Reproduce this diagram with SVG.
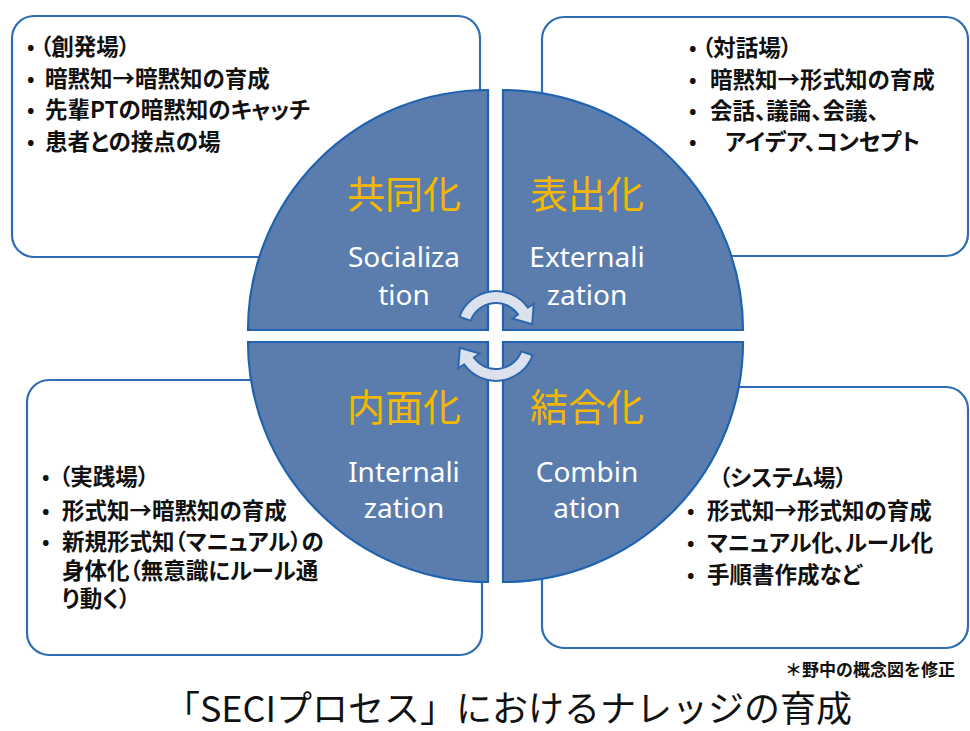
<svg xmlns="http://www.w3.org/2000/svg" width="970" height="731" viewBox="0 0 970 731">
<defs>
<style>
.box{fill:#ffffff;stroke:#2e6db4;stroke-width:2.2}
.quad{fill:#5a7dae;stroke:#1f63b0;stroke-width:2.2}
.t{font-family:"Noto Sans CJK JP","Noto Sans",sans-serif;font-size:22.5px;font-weight:700;fill:#111111;font-feature-settings:"palt"}
.b{font-family:"Noto Sans",sans-serif;font-size:20px;font-weight:700}
.jp{font-family:"Noto Sans CJK JP",sans-serif;font-size:38px;fill:#f5b800;text-anchor:middle}
.en{font-family:"Noto Sans","Open Sans",sans-serif;font-size:28px;fill:#ffffff;text-anchor:middle}
.arr{fill:#dbe2ee;stroke:#2c66ad;stroke-width:2}
</style>
<path id="cyc" d="M459.4,316.7 A39,39 0 0 1 527.9,307.6 L533.7,303.6 L532.2,324.2 L512.4,318.5 L518.1,314.5 A27,27 0 0 0 470.6,320.8 Z"/>
</defs>
<rect width="970" height="731" fill="#ffffff"/>

<g id="box-sogenba">
<rect class="box" x="12" y="16" width="468" height="241" rx="22"/>
<text class="t" y="55"><tspan class="b" x="27">•</tspan><tspan x="40">（創発場）</tspan></text>
<text class="t" y="87"><tspan class="b" x="27">•</tspan><tspan x="45">暗黙知→暗黙知の育成</tspan></text>
<text class="t" y="118"><tspan class="b" x="27">•</tspan><tspan x="45">先輩PTの暗黙知のキャッチ</tspan></text>
<text class="t" y="150"><tspan class="b" x="27">•</tspan><tspan x="45">患者との接点の場</tspan></text>
</g>

<g id="box-taiwaba">
<rect class="box" x="542" y="17" width="426" height="239" rx="22"/>
<text class="t" y="56"><tspan class="b" x="689">•</tspan><tspan x="702">（対話場）</tspan></text>
<text class="t" y="88"><tspan class="b" x="689">•</tspan><tspan x="710">暗黙知→形式知の育成</tspan></text>
<text class="t" y="119"><tspan class="b" x="689">•</tspan><tspan x="710">会話、議論、会議、</tspan></text>
<text class="t" y="150"><tspan class="b" x="689">•</tspan><tspan x="725">アイデア、コンセプト</tspan></text>
</g>

<g id="box-jissenba">
<rect class="box" x="27" y="380" width="455" height="275" rx="22"/>
<text class="t" y="485"><tspan class="b" x="42">•</tspan><tspan x="59">（実践場）</tspan></text>
<text class="t" y="519"><tspan class="b" x="42">•</tspan><tspan x="62">形式知→暗黙知の育成</tspan></text>
<text class="t" y="550"><tspan class="b" x="42">•</tspan><tspan x="62">新規形式知（マニュアル）の</tspan><tspan x="62" y="579">身体化（無意識にルール通</tspan><tspan x="62" y="607">り動く）</tspan></text>
</g>

<g id="box-systemba">
<rect class="box" x="542" y="387" width="426" height="261" rx="22"/>
<text class="t" x="719" y="486">（システム場）</text>
<text class="t" y="519"><tspan class="b" x="687">•</tspan><tspan x="707">形式知→形式知の育成</tspan></text>
<text class="t" y="551"><tspan class="b" x="687">•</tspan><tspan x="707">マニュアル化、ルール化</tspan></text>
<text class="t" y="583"><tspan class="b" x="687">•</tspan><tspan x="707">手順書作成など</tspan></text>
</g>

<g id="socialization">
<path class="quad" d="M488,330 L248,330 A240,240 0 0 1 488,90 Z"/>
<text class="jp" x="404" y="208">共同化</text>
<text class="en" x="404" y="267">Socializa</text>
<text class="en" x="404" y="305">tion</text>
</g>

<g id="externalization">
<path class="quad" d="M503,330 L503,90 A240,240 0 0 1 743,330 Z"/>
<text class="jp" x="587" y="208">表出化</text>
<text class="en" x="587" y="267">Externali</text>
<text class="en" x="587" y="305">zation</text>
</g>

<g id="internalization">
<path class="quad" d="M488,342 L488,582 A240,240 0 0 1 248,342 Z"/>
<text class="jp" x="404" y="421">内面化</text>
<text class="en" x="404" y="482">Internali</text>
<text class="en" x="404" y="518">zation</text>
</g>

<g id="combination">
<path class="quad" d="M503,342 L743,342 A240,240 0 0 1 503,582 Z"/>
<text class="jp" x="587" y="421">結合化</text>
<text class="en" x="587" y="482">Combin</text>
<text class="en" x="587" y="518">ation</text>
</g>

<g id="connectors">
<use href="#cyc" class="arr"/>
<use href="#cyc" class="arr" transform="rotate(180 496 336)"/>
</g>

<g id="notes">
<text x="955" y="676" text-anchor="end" style="font-family:'Noto Sans CJK JP',sans-serif;font-size:17px;font-weight:700;fill:#111">＊野中の概念図を修正</text>
<text x="508" y="722" text-anchor="middle" style="font-family:'Noto Sans CJK JP',sans-serif;font-size:36px;fill:#111">「SECIプロセス」におけるナレッジの育成</text>
</g>
</svg>
